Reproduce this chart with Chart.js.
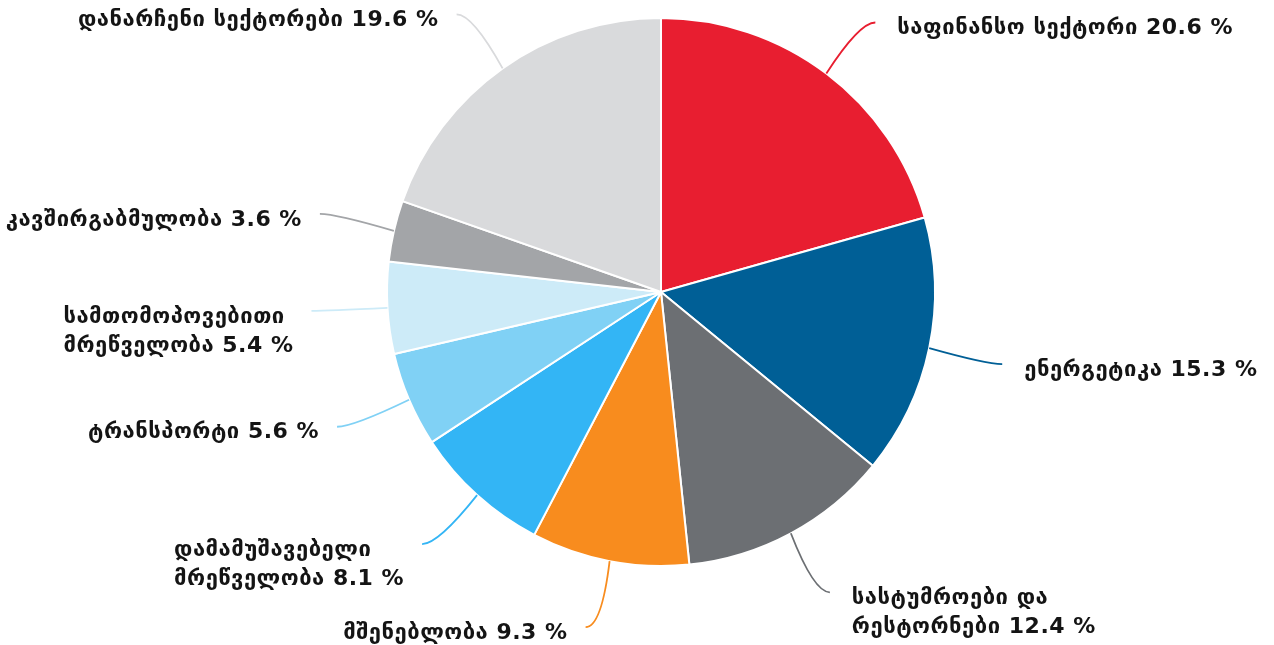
<!DOCTYPE html>
<html>
<head>
<meta charset="utf-8">
<script src="https://cdn.jsdelivr.net/npm/chart.js@4"></script>
<style>
  html, body { margin: 0; padding: 0; background: #fff; }
  canvas { display: block; }
</style>
</head>
<body>
<canvas id="sectorPie" width="1274" height="645"></canvas>
<script>
// sector shares, %
const sectors = [
  ['საფინანსო სექტორი'],
  ['ენერგეტიკა'],
  ['სასტუმროები და', 'რესტორნები'],
  ['მშენებლობა'],
  ['დამამუშავებელი', 'მრეწველობა'],
  ['ტრანსპორტი'],
  ['სამთომოპოვებითი', 'მრეწველობა'],
  ['კავშირგაბმულობა'],
  ['დანარჩენი სექტორები']
]
const shares = [20.6, 15.3, 12.4, 9.3, 8.1, 5.6, 5.4, 3.6, 19.6]
const colors = ['#e81e30', '#005f96', '#6c6f73', '#f88c1e', '#33b5f5', '#80d1f5', '#cdebf8', '#a3a5a8', '#d9dadc']

// where each leader line ends, relative to the slice edge
const leaders = [
  { dx: 49, dy: -51, side: 'right' },
  { dx: 73, dy: 16, side: 'right' },
  { dx: 39, dy: 59, side: 'right' },
  { dx: -24, dy: 66, side: 'left' },
  { dx: -55, dy: 49, side: 'left' },
  { dx: -72, dy: 27, side: 'left' },
  { dx: -76, dy: 3, side: 'left' },
  { dx: -74, dy: -17, side: 'left' },
  { dx: -46, dy: -54, side: 'left' }
]

const labelFont = 'bold 22px "DejaVu Sans"'

const outsideLabels = {
  id: 'outsideLabels',
  afterDatasetsDraw(chart) {
    const ctx = chart.ctx
    const arcs = chart.getDatasetMeta(0).data
    ctx.save()
    ctx.font = labelFont
    ctx.letterSpacing = '0.5px'
    arcs.forEach((arc, i) => {
      const { x, y, startAngle, endAngle, outerRadius } = arc.getProps(['x', 'y', 'startAngle', 'endAngle', 'outerRadius'], true)
      const mid = (startAngle + endAngle) / 2
      const sx = x + Math.cos(mid) * outerRadius
      const sy = y + Math.sin(mid) * outerRadius
      const lay = leaders[i]
      const ex = sx + lay.dx
      const ey = sy + lay.dy
      const dir = lay.side === 'right' ? 1 : -1
      const cx = ex - dir * 16
      const cy = ey

      ctx.strokeStyle = colors[i]
      ctx.lineWidth = 1.8
      ctx.beginPath()
      ctx.moveTo(sx, sy)
      ctx.quadraticCurveTo(cx, cy, ex, ey)
      ctx.stroke()

      // text block
      const lines = sectors[i].slice()
      lines[lines.length - 1] += ' ' + shares[i] + ' %'
      const widths = lines.map(l => ctx.measureText(l).width)
      const blockW = Math.max(...widths)
      const left = lay.side === 'right' ? ex + 22 : ex - 18 - blockW
      ctx.fillStyle = '#141414'
      ctx.textAlign = 'left'
      ctx.textBaseline = 'middle'
      lines.forEach((l, k) => {
        ctx.fillText(l, left, ey + 6 + k * 29)
      })
    })
    ctx.restore()
  }
}

new Chart(document.getElementById('sectorPie'), {
  type: 'pie',
  data: {
    labels: sectors.map(s => s.join(' ')),
    datasets: [{
      data: shares,
      backgroundColor: colors,
      borderColor: '#ffffff',
      borderWidth: 2
    }]
  },
  options: {
    responsive: false,
    animation: false,
    radius: 274,
    layout: { padding: { left: 100, right: 52, top: 0, bottom: 61 } },
    plugins: {
      legend: { display: false },
      tooltip: { enabled: false }
    }
  },
  plugins: [outsideLabels]
})
</script>
</body>
</html>
